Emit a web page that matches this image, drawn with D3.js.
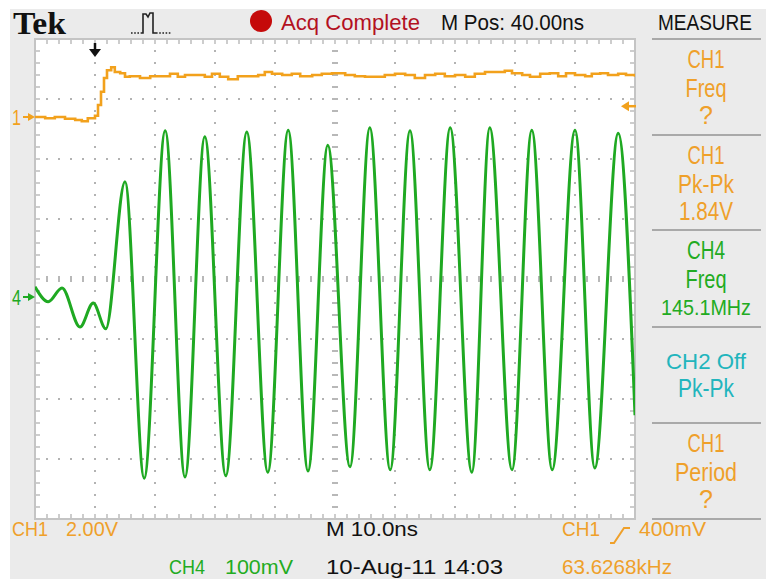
<!DOCTYPE html>
<html>
<head>
<meta charset="utf-8">
<script src="https://cdn.jsdelivr.net/npm/d3@7"></script>
<style>
  body { margin: 0; background: #fff; }
  svg { display: block; }
  text { font-family: "Liberation Sans", Arial, sans-serif; }
</style>
</head>
<body>
<svg id="chart" width="766" height="579"></svg>
<script>
// CH1 (orange) trace: time in ns from left edge, level in divisions from screen centre
var ch1Time = [0, 1.7, 3.3, 5, 6.7, 7.8, 8.8, 10, 10.5, 11, 11.5, 12, 12.7, 13.3, 14.2,
  15, 15.8, 17.5, 19.2, 20.8, 22.5, 23.8, 25, 26.7, 28.3, 29.5, 30.8, 32.2, 33.8, 35.8,
  37.2, 38.3, 39.5, 41.2, 42.8, 44.2, 46.2, 47.8, 49.5, 51.7, 53.3, 55, 56.7, 58.3, 60,
  61.7, 63.3, 65, 66.7, 68.3, 70, 71.7, 73.3, 75, 76.7, 78.3, 79.5, 81.2, 82.5, 84.2,
  85.8, 87.2, 88.5, 90, 91.7, 92.8, 94.2, 95.5, 97.2, 98.5, 100];
var ch1Div = [2.70, 2.68, 2.70, 2.67, 2.65, 2.63, 2.68, 2.72, 2.90, 3.12, 3.35, 3.48, 3.53, 3.45, 3.43,
  3.37, 3.38, 3.35, 3.38, 3.38, 3.42, 3.37, 3.40, 3.40, 3.37, 3.42, 3.37, 3.33, 3.38, 3.38,
  3.40, 3.45, 3.42, 3.40, 3.42, 3.38, 3.40, 3.42, 3.43, 3.40, 3.38, 3.37, 3.37, 3.40, 3.42,
  3.40, 3.35, 3.40, 3.42, 3.38, 3.40, 3.37, 3.42, 3.45, 3.45, 3.47, 3.43, 3.40, 3.37, 3.42,
  3.43, 3.38, 3.43, 3.40, 3.38, 3.42, 3.43, 3.40, 3.42, 3.40, 3.37];

// CH4 (green) trace: turning points of the burst
var ch4Time = [0, 2.2, 4.5, 7.5, 9.7, 11.8, 15.0, 18.2, 21.7, 25.0, 28.3, 31.8, 35.3, 38.8,
  42.2, 45.5, 48.8, 52.5, 55.8, 59.2, 62.5, 65.8, 69.2, 72.8, 75.8, 79.5, 82.8, 86.2,
  90.0, 93.3, 97.2, 100];
var ch4Div = [-0.13, -0.38, -0.15, -0.80, -0.40, -0.83, 1.62, -3.32, 2.47, -3.30, 2.37, -3.28,
  2.45, -3.22, 2.48, -3.20, 2.23, -3.13, 2.52, -3.18, 2.47, -3.18, 2.52, -3.22, 2.52, -3.18,
  2.48, -3.18, 2.48, -3.15, 2.43, -2.27];

// channel markers (divisions) and trigger
var ch1Ground = 2.70;
var ch4Ground = -0.30;
var triggerTime = 10;
var triggerLevel = 2.88;

// measurement panel
var measureChannel = ["CH1", "CH1", "CH4", "CH2", "CH1"];
var measureLines = [["CH1", "Freq", "?"], ["CH1", "Pk-Pk", "1.84V"], ["CH4", "Freq", "145.1MHz"],
  ["CH2 Off", "Pk-Pk"], ["CH1", "Period", "?"]];

// status texts
var headerTexts = ["Acq Complete", "M Pos: 40.00ns", "MEASURE"];
var footerRow1 = ["CH1", "2.00V", "M 10.0ns", "CH1", "400mV"];
var footerRow2 = ["CH4", "100mV", "10-Aug-11 14:03", "63.6268kHz"];

var colors = { CH1: "#f2a11c", CH4: "#1fa922", CH2: "#22b5bd" };
var textOrange = "#efa02a", textGreen = "#22ab22";

var svg = d3.select("#chart");
var W = 766, H = 579;

var margin = {left: 35, top: 39};
var plotW = 600, plotH = 480;

var x = d3.scaleLinear().domain([0, 100]).range([margin.left, margin.left + plotW]);
var y = d3.scaleLinear().domain([-4, 4]).range([margin.top + plotH, margin.top]);

// backgrounds
svg.append("rect").attr("width", W).attr("height", H).attr("fill", "#fff");
svg.append("rect").attr("x", 10).attr("y", 9).attr("width", W - 10).attr("height", H - 9).attr("fill", "#ebebeb");
svg.append("rect").attr("x", x(0)).attr("y", y(4)).attr("width", plotW).attr("height", plotH).attr("fill", "#fff");

// grid
var grid = svg.append("g");
var minorT = d3.range(0, 100.01, 2);
var minorV = d3.range(-4, 4.001, 0.2);
var majorT = d3.range(10, 100, 10);
var majorV = d3.range(-3, 4, 1);

majorT.filter(function(t) { return t !== 50; }).forEach(function(t) {
  grid.selectAll(null).data(minorV.slice(1, -1)).enter().append("rect")
    .attr("x", x(t) - 1).attr("y", function(v) { return y(v) - 1; })
    .attr("width", 2).attr("height", 2).attr("fill", "#b3b3b3");
});
majorV.filter(function(v) { return v !== 0; }).forEach(function(v) {
  grid.selectAll(null).data(minorT.slice(1, -1)).enter().append("rect")
    .attr("x", function(t) { return x(t) - 1; }).attr("y", y(v) - 1)
    .attr("width", 2).attr("height", 2).attr("fill", "#b3b3b3");
});

// centre cross with ticks
grid.selectAll(null).data(minorT.slice(1, -1)).enter().append("line")
  .attr("x1", function(t) { return x(t); }).attr("x2", function(t) { return x(t); })
  .attr("y1", y(0) - 3).attr("y2", y(0) + 3)
  .attr("stroke", "#b8b8b8").attr("stroke-width", 2);
grid.selectAll(null).data(minorV.slice(1, -1)).enter().append("line")
  .attr("x1", x(50) - 3).attr("x2", x(50) + 3)
  .attr("y1", function(v) { return y(v); }).attr("y2", function(v) { return y(v); })
  .attr("stroke", "#b8b8b8").attr("stroke-width", 2);

// edge ticks
grid.selectAll(null).data(minorT.slice(1, -1)).enter().append("path")
  .attr("d", function(t) {
    return "M" + x(t) + "," + y(4) + "v5M" + x(t) + "," + y(-4) + "v-5";
  })
  .attr("stroke", "#bdbdbd").attr("stroke-width", 1.5);
grid.selectAll(null).data(minorV.slice(1, -1)).enter().append("path")
  .attr("d", function(v) {
    return "M" + x(0) + "," + y(v) + "h5M" + x(100) + "," + y(v) + "h-5";
  })
  .attr("stroke", "#bdbdbd").attr("stroke-width", 1.5);

svg.append("rect").attr("x", x(0)).attr("y", y(4)).attr("width", plotW).attr("height", plotH)
  .attr("fill", "none").attr("stroke", "#c4c4c4").attr("stroke-width", 2);

// traces
svg.append("clipPath").attr("id", "plotClip").append("rect")
  .attr("x", x(0)).attr("y", y(4)).attr("width", plotW).attr("height", plotH);

var ch1Data = ch1Time.map(function(t, i) { return [t, ch1Div[i]]; });
var ch4Data = ch4Time.map(function(t, i) { return [t, ch4Div[i]]; });

var stepLine = d3.line().x(function(d) { return x(d[0]); }).y(function(d) { return y(d[1]); })
  .curve(d3.curveStepAfter);
var smoothLine = d3.line().x(function(d) { return x(d[0]); }).y(function(d) { return y(d[1]); })
  .curve(d3.curveMonotoneX);

var traces = svg.append("g").attr("clip-path", "url(#plotClip)");
traces.append("path").datum(ch4Data).attr("d", smoothLine)
  .attr("fill", "none").attr("stroke", colors.CH4).attr("stroke-width", 3)
  .attr("stroke-linejoin", "round");
traces.append("path").datum(ch1Data).attr("d", stepLine)
  .attr("fill", "none").attr("stroke", colors.CH1).attr("stroke-width", 2.6);

// channel markers on the left
function channelMarker(label, level, color) {
  var yy = y(level);
  svg.append("text").attr("x", 12).attr("y", yy + 8).attr("font-size", 22)
    .attr("fill", color).attr("textLength", 9).attr("lengthAdjust", "spacingAndGlyphs").text(label);
  svg.append("path").attr("d", "M23," + yy + "H30").attr("stroke", color).attr("stroke-width", 2);
  svg.append("path").attr("d", "M28," + (yy - 4) + "L35," + yy + "L28," + (yy + 4) + "Z").attr("fill", color);
}
channelMarker("1", ch1Ground, colors.CH1);
channelMarker("4", ch4Ground, colors.CH4);

// trigger level marker (right) and trigger position marker (top)
var tl = y(triggerLevel);
svg.append("path").attr("d", "M621," + tl + "L629," + (tl - 5) + "L629," + (tl + 5) + "Z").attr("fill", colors.CH1);
svg.append("path").attr("d", "M627," + tl + "H636").attr("stroke", colors.CH1).attr("stroke-width", 2.5);
var tp = x(triggerTime);
svg.append("path").attr("d", "M" + tp + ",43V50").attr("stroke", "#111").attr("stroke-width", 2.5);
svg.append("path").attr("d", "M" + (tp - 6) + ",49H" + (tp + 6) + "L" + tp + ",57Z").attr("fill", "#111");

// header
svg.append("text").attr("x", 13).attr("y", 34)
  .style("font-family", "'Liberation Serif', 'DejaVu Serif', serif").attr("font-weight", "bold")
  .attr("font-size", 31).attr("textLength", 53).attr("lengthAdjust", "spacingAndGlyphs")
  .attr("fill", "#111").text("Tek");

var icon = svg.append("g").attr("fill", "none").attr("stroke", "#222").attr("stroke-width", 1.6);
icon.append("path").attr("d", "M131,33h10M156,33h16").attr("stroke-dasharray", "1.6,1.6");
icon.append("path").attr("d", "M141,33H143V14H146L148,17L150,13H153V33H156");

svg.append("circle").attr("cx", 261).attr("cy", 21).attr("r", 11).attr("fill", "#c50a0a");

function label(txt, xx, yy, size, color, len, anchor) {
  var t = svg.append("text").attr("x", xx).attr("y", yy).attr("font-size", size)
    .attr("fill", color).attr("text-anchor", anchor || "start").text(txt);
  if (len) t.attr("textLength", len).attr("lengthAdjust", "spacingAndGlyphs");
  return t;
}
label(headerTexts[0], 281, 30, 22, "#b3111f", 139);
label(headerTexts[1], 441, 30, 22, "#111", 143);
label(headerTexts[2], 658, 30, 22, "#111", 94);

// measurement panel
var boxTops = [39, 135, 230, 327, 423, 519];
svg.selectAll(".sep").data(boxTops).enter().append("line")
  .attr("x1", 652).attr("x2", 761)
  .attr("y1", function(d) { return d; }).attr("y2", function(d) { return d; })
  .attr("stroke", "#a9a9a9").attr("stroke-width", 2);

var textWidths = {"CH1": 37, "CH4": 38, "Freq": 41, "Pk-Pk": 56, "1.84V": 54,
  "145.1MHz": 90, "CH2 Off": 80, "Period": 62};
var chanText = { CH1: textOrange, CH4: textGreen, CH2: colors.CH2 };
measureLines.forEach(function(lines, i) {
  var offs = lines.length === 3 ? [29, 58, 85] : [42, 70];
  lines.forEach(function(s, j) {
    var size = s.length > 6 ? 22 : 25;
    label(s, 706, boxTops[i] + offs[j], size, chanText[measureChannel[i]], textWidths[s], "middle");
  });
});

// footer
label(footerRow1[0], 12, 536, 21, textOrange, 36);
label(footerRow1[1], 66, 536, 21, textOrange, 52);
label(footerRow1[2], 326, 536, 21, "#111", 92);
label(footerRow1[3], 562, 536, 21, textOrange, 38);
svg.append("path").attr("d", "M610,543H614L624,528H630").attr("fill", "none")
  .attr("stroke", textOrange).attr("stroke-width", 2);
label(footerRow1[4], 639, 536, 21, textOrange, 67);

label(footerRow2[0], 169, 574, 21, textGreen, 36);
label(footerRow2[1], 225, 574, 21, textGreen, 68);
label(footerRow2[2], 326, 574, 21, "#111", 177);
label(footerRow2[3], 562, 574, 21, textOrange, 110);
</script>
</body>
</html>
